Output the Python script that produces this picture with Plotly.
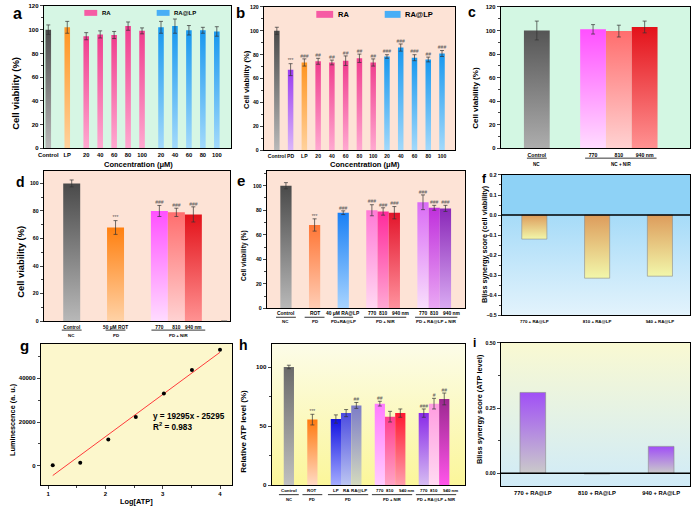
import base64
import plotly.graph_objects as go

W, H = 696, 510

# ---------------- data ----------------
a_labels = ["Control", "LP", "20", "40", "60", "80", "100", "20", "40", "60", "80", "100"]
a_values = [100, 102, 94.5, 96, 95.5, 103, 99, 102, 103, 99.5, 99.5, 98.5]
a_errors = [4, 5, 3, 3, 3, 3.5, 2.5, 5, 6, 4, 2.5, 4]

b_labels = ["Control", "PD", "LP", "20", "40", "60", "80", "100", "20", "40", "60", "80", "100"]
b_values = [100, 67.5, 73.5, 74.5, 73.5, 75, 77, 73.5, 78.5, 86, 77.5, 76, 81]
b_errors = [3, 5, 3, 2.5, 2, 4, 3.5, 3, 1.5, 3, 2.5, 2, 2.5]
b_marks = ["", "***", "###", "##", "##", "##", "##", "##", "###", "###", "###", "##", "###"]

c_labels = ["Control", "770", "810", "940 nm"]
c_values = [100, 101, 99.5, 103]
c_errors = [8, 4, 5, 5]
c_groups = [("NC", 0, 0), ("NC + NIR", 1, 3)]

d_labels = ["Control", "50 μM ROT", "770", "810", "940 nm"]
d_values = [100, 68, 80, 79, 77.5]
d_errors = [2.5, 5, 4, 3, 5.5]
d_marks = ["", "***", "###", "###", "###"]
d_groups = [("NC", 0, 0), ("PD", 1, 1), ("PD + NIR", 2, 4)]

e_labels = ["Control", "ROT", "40 μM RA@LP", "770", "810", "940 nm", "770", "810", "940 nm"]
e_values = [100, 68, 78, 80, 79, 78, 86.5, 82, 81.5]
e_errors = [2.5, 5, 1.5, 4.5, 3, 5, 6, 2, 2.5]
e_marks = ["", "***", "###", "###", "###", "###", "###", "###", "###"]
e_groups = [("NC", 0, 0), ("PD", 1, 1), ("PD+RA@LP", 2, 2), ("PD + NIR", 3, 5), ("PD + RA@LP + NIR", 6, 8)]

f_labels = ["770 + RA@LP", "810 + RA@LP", "940 + RA@LP"]
f_values = [-0.12, -0.315, -0.305]

g_log_atp = [1.08, 1.56, 2.05, 2.53, 3.02, 3.51, 4.0]
g_lumin = [300, 1400, 12000, 22300, 33000, 43800, 53000]
g_slope, g_intercept, g_r2 = 19295, -25295, 0.983

h_labels = ["Control", "ROT", "LP", "RA", "RA@LP", "770", "810", "940 nm", "770", "810", "940 nm"]
h_values = [100, 55.5, 56, 61, 67.5, 69, 58, 61, 61, 69, 73]
h_errors = [1.5, 4.5, 3.5, 3, 2.5, 2, 4.5, 3.5, 3.5, 4.5, 5]
h_marks = ["", "***", "", "", "##", "##", "", "", "###", "#", "##"]
h_groups = [("NC", 0, 0), ("PD", 1, 1), ("PD", 2, 4), ("PD + NIR", 5, 7), ("PD + RA@LP + NIR", 8, 10)]

i_labels = ["770 + RA@LP", "810 + RA@LP", "940 + RA@LP"]
i_values = [0.31, -0.003, 0.103]

# ---------------- styles ----------------
FONT = "Liberation Sans"
GRAY = ("#4a4a4a", "#b8b8b8")
ORANGE = ("#ff9420", "#ffd29c")
PINK = ("#f03d8e", "#ffa8d0")
BLUE = ("#1898ef", "#a2d9fb")
PURPLE = ("#9a3cf0", "#dab6fa")
MAG = ("#ff50ff", "#ffdcff")
SALMON = ("#ff6e6e", "#ffd2d2")
RED = ("#e3121a", "#ff9292")

a_colors = [GRAY, ORANGE] + [PINK] * 5 + [BLUE] * 5
b_colors = [GRAY, PURPLE, ORANGE] + [PINK] * 5 + [BLUE] * 5
c_colors = [("#555555", "#adadad"), MAG, SALMON, RED]
d_colors = [GRAY, ("#ff8010", "#ffd2a6"), MAG, SALMON, RED]
e_colors = [GRAY, ("#ff7635", "#ffcdb5"), ("#1a80f5", "#a8d4ff"), ("#ff7ad6", "#ffd8f2"),
            ("#ff2b9c", "#ffa8d4"), ("#e3152b", "#ff929e"), ("#da6cf5", "#f8defc"),
            ("#c030dc", "#eaa8f4"), ("#8a28b8", "#d9aaf2")]
h_colors = [("#6a6a6a", "#c0c0c0"), ("#ff7a10", "#ffdac4"), ("#1212e0", "#a4acff"),
            ("#4c4ce0", "#bcc6f2"), ("#7c7cc8", "#d4dabe"), ("#ff7cff", "#ffccff"),
            ("#ff3e90", "#ffa4c4"), ("#ff1830", "#ff9eac"), ("#8a2ae8", "#d6bcf2"),
            ("#ff9ce0", "#ffdaf2"), ("#9c2890", "#ff55ea")]
F_COL = ("#dd9c5c", "#f2f7aa")
I_COL = ("#a04ff6", "#cacaca")


def slots(sizes, gap):
    pos, x = [], 0.0
    for n in sizes:
        for _ in range(n):
            pos.append(x)
            x += 1
        x += gap
    return pos


# panel geometry: box (x0, x1, ytop, ybottom) in px, x range, y range
P = {
    1: dict(box=(38, 227, 3, 147), xr=[-0.33, 13.1], yr=[0, 120]),
    2: dict(box=(260, 453, 4, 149), xr=[-0.95, 12.95], yr=[0, 120]),
    3: dict(box=(499, 690, 4, 147), xr=[-1.4, 5.94], yr=[0, 120]),
    4: dict(box=(38, 226, 170, 322), xr=[-1.65, 9.32], yr=[0, 109]),
    5: dict(box=(263, 463, 170, 309), xr=[-1.71, 15.94], yr=[0, 112]),
    6: dict(box=(500, 690, 174, 316), xr=[-0.52, 2.48], yr=[-0.5, 0.2]),
    7: dict(box=(35, 228, 345, 488), xr=[0.87, 4.21], yr=[-8900, 55700]),
    8: dict(box=(268, 463, 345, 488), xr=[-1.68, 17.23], yr=[0, 119.5]),
    9: dict(box=(499, 690, 344, 489), xr=[-0.5, 2.45], yr=[-0.05, 0.5]),
}
a_pos = slots([1, 1, 5, 5], 0.36)
b_pos = slots([13], 0)
c_pos = slots([1, 3], 1.18)
d_pos = slots([1, 1, 3], 1.58)
e_pos = slots([1, 1, 1, 3, 3], 1.55)
h_pos = slots([1, 1, 3, 3, 3], 1.3)
fi_pos = slots([3], 0)


def px_x(px):
    return px / W


def px_y(py):
    return 1 - py / H


def axn(n):
    return ("x" if n == 1 else f"x{n}", "y" if n == 1 else f"y{n}")


def ppu(n):
    b = P[n]["box"]
    return (b[1] - b[0]) / (P[n]["xr"][1] - P[n]["xr"][0])


fig = go.Figure()
ann = []
shapes = []
images = []


def tfont(size, color="black"):
    return dict(family=FONT, size=size, color=color, weight="bold")


def bars(n, pos, vals, cols, width, outline=None):
    xa, ya = axn(n)
    for p, v, (top, bot) in zip(pos, vals, cols):
        fig.add_trace(go.Scatter(
            x=[p - width / 2, p - width / 2, p + width / 2, p + width / 2, p - width / 2],
            y=[0, v, v, 0, 0], mode="lines", fill="toself",
            fillgradient=dict(type="vertical", colorscale=[[0, bot], [1, top]]),
            line=dict(width=0.6 if outline else 0, color=outline or "rgba(0,0,0,0)"),
            xaxis=xa, yaxis=ya, showlegend=False, hoverinfo="skip"))


def errs(n, pos, vals, err):
    xa, ya = axn(n)
    fig.add_trace(go.Scatter(
        x=pos, y=vals, mode="markers", marker=dict(size=1, color="rgba(0,0,0,0)"),
        error_y=dict(type="data", array=err, color="#333333", thickness=0.7, width=2),
        xaxis=xa, yaxis=ya, showlegend=False, hoverinfo="skip"))


def marks(n, pos, vals, err, txt, color="#555555"):
    xa, ya = axn(n)
    keep = [k for k, t in enumerate(txt) if t]
    fig.add_trace(go.Scatter(
        x=[pos[k] for k in keep], y=[vals[k] + err[k] for k in keep], mode="text",
        text=[txt[k] for k in keep],
        textposition="top center", textfont=dict(family=FONT, size=5, color=color),
        xaxis=xa, yaxis=ya, showlegend=False, hoverinfo="skip"))


def labels_ann(n, pos, labels, y_text, size):
    # category labels drawn as annotations so the crowded "940 nm" / "RA@LP" can sit like the original
    xa, _ = axn(n)
    for p, s in zip(pos, labels):
        if s.endswith(" nm"):
            num_w = 0.556 * size * len(s.split()[0])
            ann.append(dict(text=s, xref=xa, yref="paper", x=p, y=px_y(y_text), xshift=-num_w / 2,
                            showarrow=False, xanchor="left", yanchor="middle", font=tfont(size)))
        else:
            shift = 2.5 if s == "RA@LP" else 0
            ann.append(dict(text=s, xref=xa, yref="paper", x=p, y=px_y(y_text), xshift=shift,
                            showarrow=False, xanchor="center", yanchor="middle", font=tfont(size)))


def groups(n, pos, grp, y_line, y_text, size):
    xa, _ = axn(n)
    u = ppu(n)
    for name, i0, i1 in grp:
        if i0 == i1:
            x0, x1 = pos[i0] - 10 / u, pos[i1] + 10 / u
        else:
            x0, x1 = pos[i0] - 8 / u, pos[i1] + 12 / u
        shapes.append(dict(type="line", xref=xa, yref="paper", x0=x0, x1=x1,
                           y0=px_y(y_line), y1=px_y(y_line), line=dict(color="black", width=0.8)))
        ann.append(dict(text=name, xref=xa, yref="paper", x=(x0 + x1) / 2, y=px_y(y_text),
                        showarrow=False, xanchor="center", yanchor="middle", font=tfont(size)))


def bg(n, stops):
    x0, x1, t, b = P[n]["box"]
    svg = ('<svg xmlns="http://www.w3.org/2000/svg" width="10" height="100" viewBox="0 0 10 100" '
           'preserveAspectRatio="none"><defs><linearGradient id="g" x1="0" y1="0" x2="0" y2="1">'
           + "".join(f'<stop offset="{o}" stop-color="{c}"/>' for o, c in stops)
           + '</linearGradient></defs><rect width="10" height="100" fill="url(#g)"/></svg>')
    src = "data:image/svg+xml;base64," + base64.b64encode(svg.encode()).decode()
    images.append(dict(source=src, xref="paper", yref="paper", x=px_x(x0), y=px_y(t),
                       sizex=(x1 - x0) / W, sizey=(b - t) / H, xanchor="left", yanchor="top",
                       sizing="stretch", layer="below"))


# ---------------- panels ----------------
bars(1, a_pos, a_values, a_colors, 0.4)
errs(1, a_pos, a_values, a_errors)

bars(2, b_pos, b_values, b_colors, 0.4)
errs(2, b_pos, b_values, b_errors)
marks(2, b_pos, b_values, b_errors, b_marks)

bars(3, c_pos, c_values, c_colors, 1.0)
errs(3, c_pos, c_values, c_errors)
groups(3, c_pos, c_groups, 157, 163, 4.6)

bars(4, d_pos, d_values, d_colors, 1.0)
errs(4, d_pos, d_values, d_errors)
marks(4, d_pos, d_values, d_errors, d_marks)
groups(4, d_pos, d_groups, 331, 336, 4.4)

bars(5, e_pos, e_values, e_colors, 1.0)
errs(5, e_pos, e_values, e_errors)
marks(5, e_pos, e_values, e_errors, e_marks)
labels_ann(5, e_pos, e_labels, 314, 4.9)
groups(5, e_pos, e_groups, 318, 322.5, 4.4)

bars(6, fi_pos, f_values, [F_COL] * 3, 0.4, outline="#8c8c8c")

fig.add_trace(go.Scatter(
    x=[min(g_log_atp), max(g_log_atp)],
    y=[g_slope * min(g_log_atp) + g_intercept, g_slope * max(g_log_atp) + g_intercept],
    mode="lines", line=dict(color="#ff3b3b", width=1), xaxis="x7", yaxis="y7",
    showlegend=False, hoverinfo="skip"))
fig.add_trace(go.Scatter(x=g_log_atp, y=g_lumin, mode="markers",
                         marker=dict(color="black", size=4), xaxis="x7", yaxis="y7",
                         showlegend=False))

bars(8, h_pos, h_values, h_colors, 1.0)
errs(8, h_pos, h_values, h_errors)
marks(8, h_pos, h_values, h_errors, h_marks)
labels_ann(8, h_pos, h_labels, 493.5, 4.4)
groups(8, h_pos, h_groups, 497.5, 502, 4.2)

bars(9, fi_pos, i_values, [I_COL] * 3, 0.4, outline="#8c8c8c")

# backgrounds
MINT = "#d6f6e4"
PEACH = "#fde3d6"
bg(1, [(0, MINT), (1, MINT)])
bg(2, [(0, PEACH), (1, PEACH)])
bg(3, [(0, "#d3f7e3"), (1, "#d3f7e3")])
bg(4, [(0, PEACH), (1, PEACH)])
bg(5, [(0, PEACH), (1, PEACH)])
zf = 0.2 / 0.7
bg(6, [(0, "#8ed2f6"), (zf, "#8ed2f6"), (zf, "#a6dbf8"), (1, "#e3f3fc")])
bg(7, [(0, "#fcf7cc"), (1, "#fcf7cc")])
bg(8, [(0, "#fcfce8"), (1, "#fbf69a")])
bg(9, [(0, "#f9f9d2"), (1, "#d0ebf8")])

# zero lines
for n in (6, 9):
    xa, ya = axn(n)
    shapes.append(dict(type="line", xref=f"{xa} domain", yref=ya, x0=0, x1=1, y0=0, y1=0,
                       line=dict(color="black", width=1.4)))

# axes
lay = {}
tick_setup = {
    1: dict(x=(a_pos, a_labels), ydt=20, ymin=10, xs=5.8, ys=6),
    2: dict(x=(b_pos, b_labels), ydt=20, ymin=10, xs=5.1, ys=5.2),
    3: dict(x=(c_pos, c_labels), ydt=20, ymin=10, xs=5.2, ys=5.8),
    4: dict(x=(d_pos, d_labels), ydt=20, ymin=10, xs=4.8, ys=5.2),
    5: dict(x="ann", ydt=20, ymin=10, xs=4.9, ys=5.2),
    6: dict(x=(fi_pos, f_labels), ydt=0.1, ymin=0.05, fmt=".1f", xs=4.4, ys=5.2),
    7: dict(x=None, ydt=20000, ymin=10000, xs=6, ys=6),
    8: dict(x="ann", ydt=50, ymin=25, xs=4.4, ys=6.2),
    9: dict(x=(fi_pos, i_labels), ydt=0.25, ymin=0.125, fmt=".2f", xs=5.8, ys=5.2),
}
for n, cfg in P.items():
    x0, x1, t, b = cfg["box"]
    xa, ya = axn(n)
    ts = tick_setup[n]
    xk = "xaxis" if n == 1 else f"xaxis{n}"
    yk = "yaxis" if n == 1 else f"yaxis{n}"
    xd = dict(domain=[px_x(x0), px_x(x1)], range=cfg["xr"], anchor=ya, showline=True,
              mirror=True, linecolor="black", linewidth=1, showgrid=False, zeroline=False,
              tickfont=tfont(ts["xs"]), fixedrange=True, tickangle=0)
    if ts["x"] == "ann":
        xd.update(showticklabels=False, ticks="")
    elif ts["x"] is not None:
        xd.update(tickmode="array", tickvals=ts["x"][0], ticktext=ts["x"][1], ticks="",
                  ticklabelstandoff=1)
    else:
        xd.update(dtick=1, tick0=1, ticks="outside", ticklen=3,
                  minor=dict(ticks="outside", ticklen=2, dtick=0.5))
    yd = dict(domain=[px_y(b), px_y(t)], range=cfg["yr"], anchor=xa, showline=True, mirror=True,
              linecolor="black", linewidth=1, showgrid=False, zeroline=False, ticks="outside",
              ticklen=3, dtick=ts["ydt"], tick0=0, tickfont=tfont(ts["ys"]), fixedrange=True,
              minor=dict(ticks="outside", ticklen=2, dtick=ts["ymin"], tick0=0))
    if "fmt" in ts:
        yd["tickformat"] = ts["fmt"]
    if n == 7:
        yd.update(tickmode="array", tickvals=[0, 20000, 40000], tickformat="d")
    lay[xk] = xd
    lay[yk] = yd

# axis titles
ytitles = [
    (1, "Cell viability (%)", 10, 91, 9.5), (2, "Cell viability (%)", 242, 77, 7.6),
    (3, "Cell viability (%)", 474, 96, 8), (4, "Cell viability (%)", 15, 262, 9.4),
    (5, "Cell viability (%)", 240, 255, 6.6), (6, "Bliss synergy score (cell viability)", 482, 244, 7.3),
    (7, "Luminescence (a. u.)", 6, 421, 7.3), (8, "Relative ATP level (%)", 240, 433, 8),
    (9, "Bliss synergy score (ATP level)", 477, 411, 7.4),
]
for n, txt, cx, cy, sz in ytitles:
    ann.append(dict(text=txt, xref="paper", yref="paper", x=px_x(cx), y=px_y(cy), textangle=-90,
                    showarrow=False, xanchor="center", yanchor="middle", font=tfont(sz)))
for txt, cx, cy, sz in [("Concentration (μM)", 134, 163, 7.5), ("Concentration (μM)", 362, 163, 7.6),
                        ("Log[ATP]", 132, 504, 7.4)]:
    ann.append(dict(text=txt, xref="paper", yref="paper", x=px_x(cx), y=px_y(cy),
                    showarrow=False, xanchor="center", yanchor="middle", font=tfont(sz)))

# panel letters
for txt, cx, cy, sz in [("a", 12, 11, 16), ("b", 237, 10, 15), ("c", 470, 9, 14), ("d", 15, 181, 14),
                        ("e", 237, 180, 15), ("f", 483, 178, 12), ("g", 19, 347, 15), ("h", 240, 346, 14),
                        ("i", 473, 344, 12)]:
    ann.append(dict(text=txt, xref="paper", yref="paper", x=px_x(cx), y=px_y(cy),
                    showarrow=False, xanchor="center", yanchor="middle", font=tfont(sz)))

# legends in a, b
for (sx0, sx1, sy0, sy1, col, tx, txt, sz) in [
        (79, 92, 7, 13, "#f65ba4", 95, "RA", 6), (152, 165, 7, 13, "#48aef6", 167, "RA@LP", 6),
        (313, 330, 8, 15, "#f65ba4", 333, "RA", 7.5), (382, 398, 8, 15, "#48aef6", 400, "RA@LP", 7.5)]:
    shapes.append(dict(type="rect", xref="paper", yref="paper", x0=px_x(sx0), x1=px_x(sx1),
                       y0=px_y(sy1), y1=px_y(sy0), fillcolor=col, line=dict(width=0)))
    ann.append(dict(text=txt, xref="paper", yref="paper", x=px_x(tx), y=px_y((sy0 + sy1) / 2),
                    showarrow=False, xanchor="left", yanchor="middle", font=tfont(sz)))

# equation in g
ann.append(dict(text=f"y = {g_slope}x - {abs(g_intercept)}<br>R<sup>2</sup> = {g_r2}", xref="paper",
                yref="paper", x=px_x(146), y=px_y(424), showarrow=False, xanchor="left",
                yanchor="middle", align="left", font=tfont(8.2)))

# stray mark in d
ann.append(dict(text="***", xref="paper", yref="paper", x=px_x(220), y=px_y(323), showarrow=False,
                xanchor="center", yanchor="middle", font=dict(family=FONT, size=5, color="#555")))

fig.update_layout(width=W, height=H, margin=dict(l=0, r=0, t=0, b=0), paper_bgcolor="white",
                  plot_bgcolor="rgba(0,0,0,0)", showlegend=False, annotations=ann, shapes=shapes,
                  images=images, **lay)
fig.write_html("out.html")
